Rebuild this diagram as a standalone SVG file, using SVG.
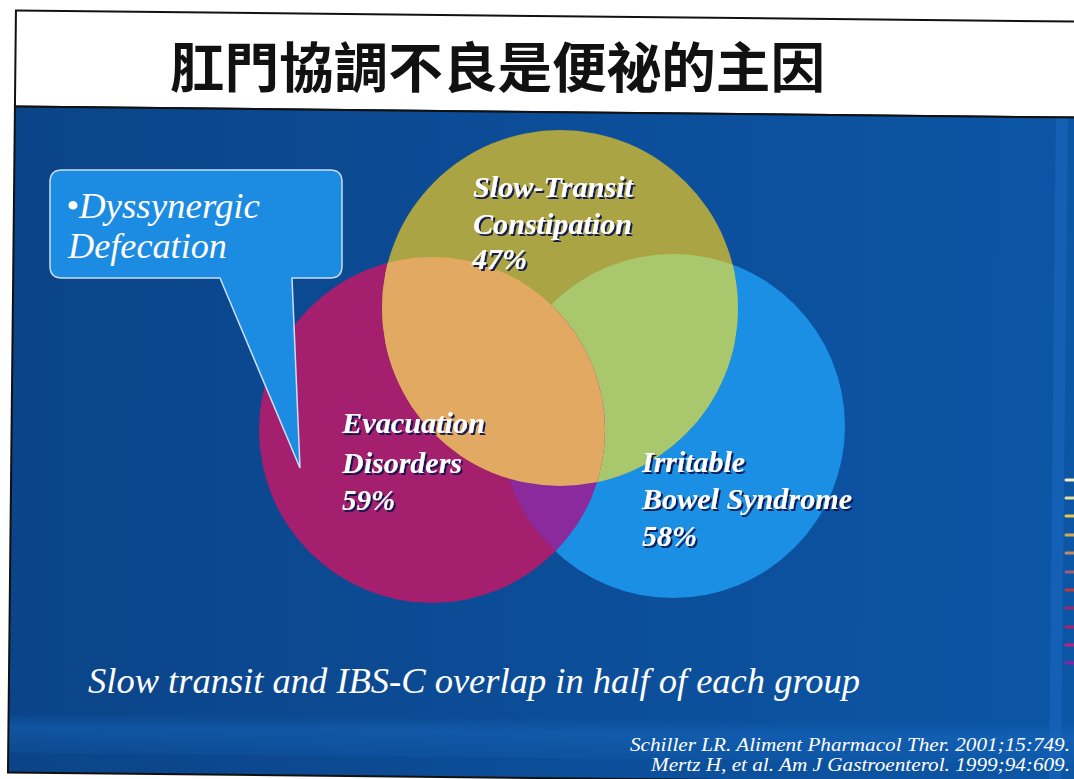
<svg xmlns="http://www.w3.org/2000/svg" width="1074" height="779" viewBox="0 0 1074 779">
  <defs>
    <linearGradient id="bg" x1="0" y1="0" x2="1" y2="0">
      <stop offset="0" stop-color="#0b4488"/>
      <stop offset="0.5" stop-color="#0c4d98"/>
      <stop offset="1" stop-color="#0c56a6"/>
    </linearGradient>
    <linearGradient id="band" x1="0" y1="0" x2="0" y2="1">
      <stop offset="0" stop-color="#1a6cc4" stop-opacity="0"/>
      <stop offset="0.35" stop-color="#1a6cc4" stop-opacity="0.4"/>
      <stop offset="1" stop-color="#1a6cc4" stop-opacity="0.15"/>
    </linearGradient>
    <clipPath id="cOlive"><circle cx="560" cy="308" r="178"/></clipPath>
    <clipPath id="cMag"><circle cx="432" cy="430" r="173"/></clipPath>
    <clipPath id="cBlue"><circle cx="673" cy="426" r="172"/></clipPath>
    <filter id="sh" x="-10%" y="-20%" width="120%" height="150%">
      <feDropShadow dx="2" dy="2" stdDeviation="0.6" flood-color="#0a1850" flood-opacity="0.95"/>
    </filter>
    <style>
      .lbl { font-family: "Liberation Serif", "Times New Roman", serif; font-style: italic; font-weight: bold; font-size: 30px; fill: #ffffff; filter: url(#sh); }
      .it { font-family: "Liberation Serif", "Times New Roman", serif; font-style: italic; fill: #ffffff; }
      .tick { stroke-width: 3; stroke-linecap: round; }
    </style>
  </defs>

  <rect width="1074" height="779" fill="#ffffff"/>

  <g id="slide" transform="rotate(0.6 537 390)">
    <rect x="12" y="16" width="1080" height="96" fill="#ffffff" stroke="#111111" stroke-width="2"/>
    <rect x="12" y="112" width="1080" height="666" fill="url(#bg)" stroke="#111111" stroke-width="2"/>
    <rect x="13" y="718" width="1078" height="40" fill="url(#band)"/>
    <rect x="1053" y="113" width="12" height="664" fill="#1a68c0" opacity="0.6"/>
  </g>

  <g id="title">
    <text x="170" y="88" font-family="Noto Sans CJK TC, Noto Sans CJK SC, sans-serif" font-weight="bold" font-size="54" fill="#111111" textLength="655" lengthAdjust="spacingAndGlyphs">肛門協調不良是便祕的主因</text>
  </g>

  <g id="venn">
    <g id="circle-ibs"><circle cx="673" cy="426" r="172" fill="#1b8fe4"/></g>
    <g id="circle-evacuation"><circle cx="432" cy="430" r="173" fill="#a41f6e"/></g>
    <g id="circle-slow"><circle cx="560" cy="308" r="178" fill="#aba445"/></g>
    <g id="overlaps">
      <g clip-path="url(#cBlue)"><circle cx="560" cy="308" r="178" fill="#a9c86e"/></g>
      <g clip-path="url(#cBlue)"><circle cx="432" cy="430" r="173" fill="#8a2a9c"/></g>
      <g clip-path="url(#cMag)"><circle cx="560" cy="308" r="178" fill="#e1a962"/></g>
    </g>
  </g>

  <g id="label-slow">
    <text class="lbl" x="473" y="197" textLength="160" lengthAdjust="spacingAndGlyphs">Slow-Transit</text>
    <text class="lbl" x="473" y="234" textLength="159" lengthAdjust="spacingAndGlyphs">Constipation</text>
    <text class="lbl" x="472" y="269" textLength="55" lengthAdjust="spacingAndGlyphs">47%</text>
  </g>
  <g id="label-evac">
    <text class="lbl" x="342" y="433" textLength="143" lengthAdjust="spacingAndGlyphs">Evacuation</text>
    <text class="lbl" x="342" y="473" textLength="120" lengthAdjust="spacingAndGlyphs">Disorders</text>
    <text class="lbl" x="342" y="510" textLength="53" lengthAdjust="spacingAndGlyphs">59%</text>
  </g>
  <g id="label-ibs">
    <text class="lbl" x="642" y="472" textLength="103" lengthAdjust="spacingAndGlyphs">Irritable</text>
    <text class="lbl" x="642" y="509" textLength="210" lengthAdjust="spacingAndGlyphs">Bowel Syndrome</text>
    <text class="lbl" x="642" y="546" textLength="55" lengthAdjust="spacingAndGlyphs">58%</text>
  </g>

  <g id="callout">
    <path d="M62,170 H330 Q342,170 342,182 V266 Q342,278 330,278 H292 L300,468 L220,278 H62 Q50,278 50,266 V182 Q50,170 62,170 Z" fill="#1c8be2" stroke="#c9def2" stroke-width="1.5"/>
    <text class="it" x="66" y="218" font-size="35" textLength="194" lengthAdjust="spacingAndGlyphs">•Dyssynergic</text>
    <text class="it" x="68" y="258" font-size="35" textLength="159" lengthAdjust="spacingAndGlyphs">Defecation</text>
  </g>

  <g id="caption">
    <text class="it" x="88" y="693" font-size="36" textLength="772" lengthAdjust="spacingAndGlyphs">Slow transit and IBS-C overlap in half of each group</text>
  </g>

  <g id="citations">
    <text class="it" x="630" y="751" font-size="19" textLength="440" lengthAdjust="spacingAndGlyphs">Schiller LR. Aliment Pharmacol Ther. 2001;15:749.</text>
    <text class="it" x="651" y="771" font-size="19" textLength="419" lengthAdjust="spacingAndGlyphs">Mertz H, et al. Am J Gastroenterol. 1999;94:609.</text>
  </g>

  <g id="edge-marks">
    <line class="tick" x1="1066" y1="480" x2="1074" y2="480" stroke="#f4efc0"/>
    <line class="tick" x1="1066" y1="498" x2="1074" y2="498" stroke="#e8e0a0"/>
    <line class="tick" x1="1066" y1="516" x2="1074" y2="516" stroke="#e8c850"/>
    <line class="tick" x1="1066" y1="535" x2="1074" y2="535" stroke="#d8a850"/>
    <line class="tick" x1="1066" y1="553" x2="1074" y2="553" stroke="#c08860"/>
    <line class="tick" x1="1066" y1="572" x2="1074" y2="572" stroke="#a06070"/>
    <line class="tick" x1="1066" y1="590" x2="1074" y2="590" stroke="#c03838"/>
    <line class="tick" x1="1066" y1="608" x2="1074" y2="608" stroke="#a02860"/>
    <line class="tick" x1="1066" y1="627" x2="1074" y2="627" stroke="#b02070"/>
    <line class="tick" x1="1066" y1="645" x2="1074" y2="645" stroke="#c02080"/>
    <line class="tick" x1="1066" y1="663" x2="1074" y2="663" stroke="#9020a0"/>
  </g>
</svg>
